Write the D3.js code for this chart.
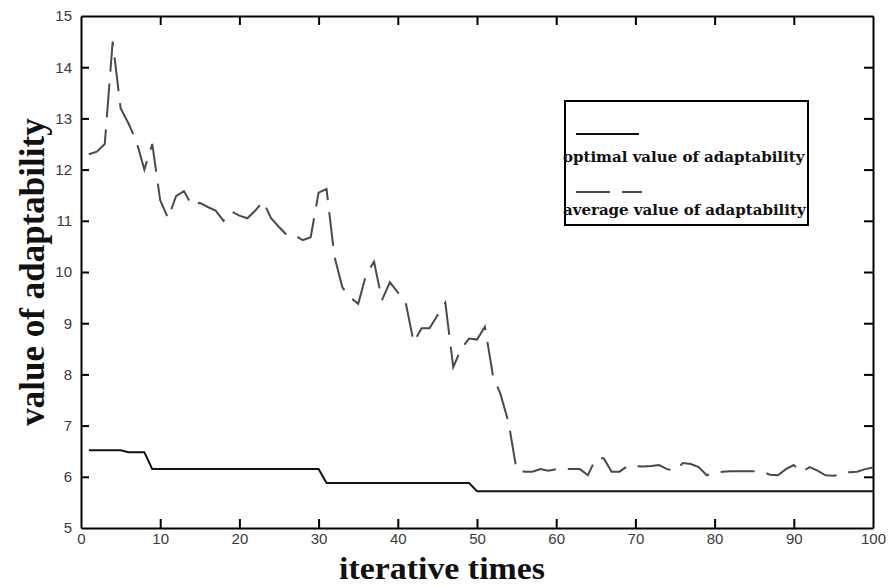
<!DOCTYPE html>
<html>
<head>
<meta charset="utf-8">
<script src="https://cdn.jsdelivr.net/npm/d3@7"></script>
<style>
  html, body { margin: 0; padding: 0; background: #fff; }
  .tick text { font-family: 'Liberation Sans', Arial, sans-serif; font-size: 15px; fill: #3a3a3a; }
  .axis path, .axis line { stroke: #000; stroke-width: 2; }
</style>
</head>
<body>
<div id="chart"></div>
<script>
// iterations 1..100
const iterations = d3.range(1, 101)

// best fitness per iteration
const optimalValues = [
  6.52, 6.52, 6.52, 6.52, 6.52, 6.48, 6.48, 6.48, 6.15, 6.15,
  6.15, 6.15, 6.15, 6.15, 6.15, 6.15, 6.15, 6.15, 6.15, 6.15,
  6.15, 6.15, 6.15, 6.15, 6.15, 6.15, 6.15, 6.15, 6.15, 6.15,
  5.88, 5.88, 5.88, 5.88, 5.88, 5.88, 5.88, 5.88, 5.88, 5.88,
  5.88, 5.88, 5.88, 5.88, 5.88, 5.88, 5.88, 5.88, 5.88, 5.72,
  5.72, 5.72, 5.72, 5.72, 5.72, 5.72, 5.72, 5.72, 5.72, 5.72,
  5.72, 5.72, 5.72, 5.72, 5.72, 5.72, 5.72, 5.72, 5.72, 5.72,
  5.72, 5.72, 5.72, 5.72, 5.72, 5.72, 5.72, 5.72, 5.72, 5.72,
  5.72, 5.72, 5.72, 5.72, 5.72, 5.72, 5.72, 5.72, 5.72, 5.72,
  5.72, 5.72, 5.72, 5.72, 5.72, 5.72, 5.72, 5.72, 5.72, 5.72
]

// mean fitness per iteration
const averageValues = [
  12.3, 12.35, 12.5, 14.5, 13.2, 12.9, 12.55, 12.0, 12.5, 11.4,
  11.05, 11.48, 11.58, 11.3, 11.35, 11.27, 11.2, 11.0, 11.18, 11.1,
  11.05, 11.2, 11.38, 11.05, 10.88, 10.72, 10.72, 10.62, 10.68, 11.55,
  11.62, 10.3, 9.7, 9.5, 9.38, 9.95, 10.2, 9.45, 9.8, 9.6,
  9.4, 8.63, 8.9, 8.9, 9.15, 9.4, 8.14, 8.5, 8.7, 8.68,
  8.93, 7.99, 7.6, 7.05, 6.13, 6.1, 6.1, 6.15, 6.12, 6.15,
  6.15, 6.15, 6.15, 6.03, 6.36, 6.36, 6.1, 6.1, 6.21, 6.21,
  6.2, 6.21, 6.23, 6.15, 6.12, 6.27, 6.25, 6.19, 6.03, 6.08,
  6.1, 6.11, 6.11, 6.11, 6.11, 6.1, 6.04, 6.03, 6.15, 6.23,
  6.09, 6.19, 6.12, 6.03, 6.02, 6.05, 6.09, 6.1, 6.15, 6.18
]

const xTicks = d3.range(0, 101, 10)
const yTicks = d3.range(5, 16, 1)
const legendLabels = ['optimal value of adaptability', 'average value of adaptability']

const width = 891
const height = 587
const margin = { top: 16, right: 18, bottom: 59, left: 81 }

const svg = d3.select('#chart')
  .append('svg')
  .attr('width', width)
  .attr('height', height)

const x = d3.scaleLinear().domain([0, 100]).range([margin.left, width - margin.right])
const y = d3.scaleLinear().domain([5, 15]).range([height - margin.bottom, margin.top])

// axes, ticks point inward on all four sides
svg.append('g')
  .attr('class', 'axis')
  .attr('transform', `translate(0,${y(5)})`)
  .call(d3.axisBottom(x).tickValues(xTicks).tickSizeInner(-9).tickSizeOuter(0).tickPadding(5))

svg.append('g')
  .attr('class', 'axis')
  .attr('transform', `translate(0,${y(15)})`)
  .call(d3.axisTop(x).tickValues(xTicks).tickSizeInner(-9).tickSizeOuter(0).tickFormat(''))

svg.append('g')
  .attr('class', 'axis')
  .attr('transform', `translate(${x(0)},0)`)
  .call(d3.axisLeft(y).tickValues(yTicks).tickSizeInner(-8).tickSizeOuter(0).tickPadding(9))

svg.append('g')
  .attr('class', 'axis')
  .attr('transform', `translate(${x(100)},0)`)
  .call(d3.axisRight(y).tickValues(yTicks).tickSizeInner(-9).tickSizeOuter(0).tickFormat(''))

// remove edge ticks that overlap the frame
svg.selectAll('.axis .tick line').filter(d => d === 0 || d === 100 || d === 5 || d === 15).remove()

const line = d3.line()
  .x((d, i) => x(iterations[i]))
  .y(d => y(d))

svg.append('path')
  .datum(averageValues)
  .attr('d', line)
  .attr('fill', 'none')
  .attr('stroke', '#4a4a4a')
  .attr('stroke-width', 2)
  .attr('stroke-dasharray', '34,12')

svg.append('path')
  .datum(optimalValues)
  .attr('d', line)
  .attr('fill', 'none')
  .attr('stroke', '#111')
  .attr('stroke-width', 2)

// legend
const legend = svg.append('g')
legend.append('rect')
  .attr('x', 565)
  .attr('y', 101)
  .attr('width', 243)
  .attr('height', 124)
  .attr('fill', '#fff')
  .attr('stroke', '#000')
  .attr('stroke-width', 2)

legend.append('line')
  .attr('x1', 576).attr('x2', 639)
  .attr('y1', 134).attr('y2', 134)
  .attr('stroke', '#111').attr('stroke-width', 2)

legend.append('line')
  .attr('x1', 576).attr('x2', 642)
  .attr('y1', 192).attr('y2', 192)
  .attr('stroke', '#4a4a4a').attr('stroke-width', 2)
  .attr('stroke-dasharray', '34,12')

legend.selectAll('text.label')
  .data(legendLabels)
  .join('text')
  .attr('class', 'label')
  .attr('x', 563)
  .attr('y', (d, i) => 162 + i * 53)
  .attr('font-family', 'DejaVu Serif, serif')
  .attr('font-weight', 'bold')
  .attr('font-size', 15)
  .attr('fill', '#111')
  .text(d => d)

// axis titles
svg.append('text')
  .attr('x', 442)
  .attr('y', 579)
  .attr('text-anchor', 'middle')
  .attr('font-family', 'Liberation Serif, serif')
  .attr('font-weight', 'bold')
  .attr('font-size', 31)
  .attr('textLength', 206)
  .attr('lengthAdjust', 'spacingAndGlyphs')
  .attr('fill', '#111')
  .text('iterative times')

svg.append('text')
  .attr('transform', 'translate(44,272) rotate(-90)')
  .attr('text-anchor', 'middle')
  .attr('font-family', 'Liberation Serif, serif')
  .attr('font-weight', 'bold')
  .attr('font-size', 35)
  .attr('fill', '#111')
  .text('value of adaptability')
</script>
</body>
</html>
